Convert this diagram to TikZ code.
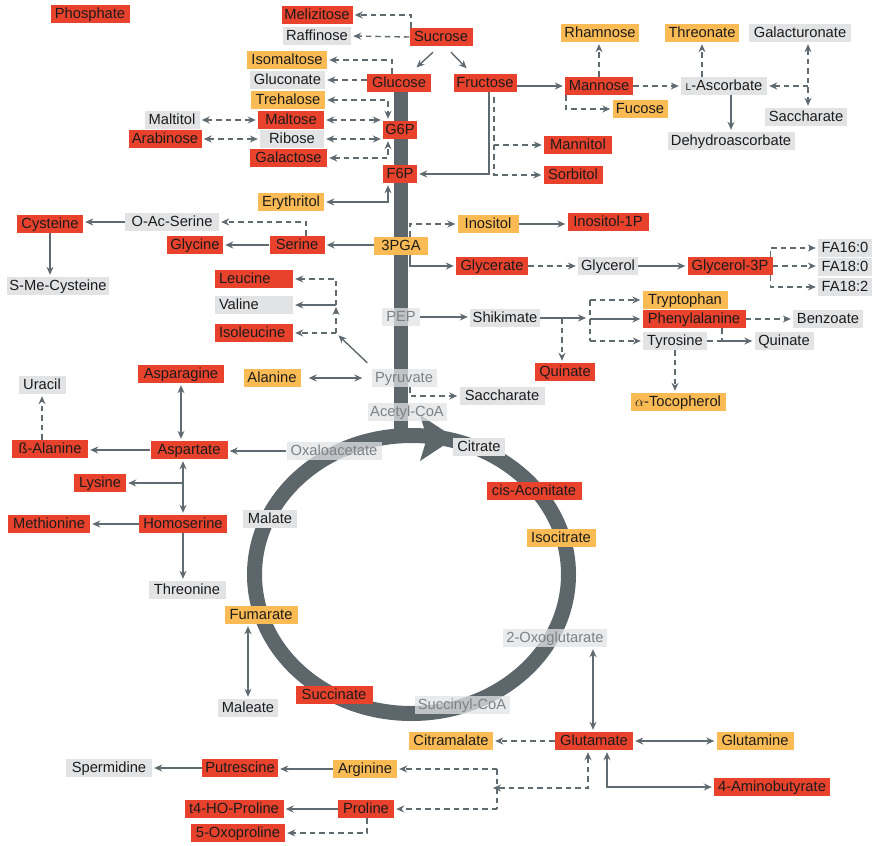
\documentclass[tikz,border=0pt]{standalone}
\usepackage{fontspec}
\setmainfont{Liberation Sans}
\usetikzlibrary{arrows.meta,calc}
\definecolor{redc}{RGB}{232,66,44}
\definecolor{orac}{RGB}{251,187,84}
\definecolor{grayc}{RGB}{226,227,229}
\definecolor{txtc}{RGB}{28,28,28}
\definecolor{flowtxt}{RGB}{125,130,134}
\definecolor{linec}{RGB}{96,106,113}
\definecolor{ringc}{RGB}{92,102,107}
\newcommand\nfont{\fontsize{14.7pt}{16pt}\selectfont}
\begin{document}
\begin{tikzpicture}[x=1pt,y=-1pt,
  >={Stealth[length=8pt,width=7pt]},
  box/.style={rectangle, inner xsep=2pt, inner ysep=0pt, minimum height=18pt,
    text height=10.5pt, text depth=1pt, font=\nfont, text=txtc, minimum width=#1},
  rb/.style={box=#1, fill=redc},
  ob/.style={box=#1, fill=orac},
  gb/.style={box=#1, fill=grayc},
  fb/.style={box=#1, fill=grayc, fill opacity=0.75, text opacity=1, text=flowtxt},
  ln/.style={draw=linec, line width=1.4pt},
  dl/.style={ln, dash pattern=on 5.5pt off 4pt},
  sa/.style={ln, ->, shorten >=2pt},
  da/.style={dl, ->, shorten >=2pt},
  sd/.style={ln, <->, shorten >=2pt, shorten <=2pt},
  dd/.style={dl, <->, shorten >=2pt, shorten <=2pt}]
\useasboundingbox (0,0) rectangle (877,845);
\fill[white] (0,0) rectangle (877,845);
% central flow
\fill[ringc] (394,88) rectangle (408,437);
\draw[ringc, line width=15pt] (411.5,574.5) ellipse [x radius=157pt, y radius=139pt];
\fill[ringc] (420,415) -- (455,438) -- (420,461) -- (427,438) -- cycle;
% nodes
\node[rb=79pt] (phos) at (90,14) {Phosphate};
\node[rb=71pt] (meliz) at (317,15) {Melizitose};
\node[gb=68pt] (raff) at (317,36) {Raffinose};
\node[rb=63pt] (sucrose) at (441,37) {Sucrose};
\node[ob=80pt] (isomalt) at (287,60) {Isomaltose};
\node[gb=75pt] (glucon) at (287.5,80) {Gluconate};
\node[ob=74pt] (treh) at (288,100) {Trehalose};
\node[rb=66pt] (maltose) at (291,120) {Maltose};
\node[gb=64pt] (ribose) at (292,139) {Ribose};
\node[rb=77pt] (galact) at (288.5,158) {Galactose};
\node[rb=64pt] (glucose) at (399,83) {Glucose};
\node[rb=63pt] (fructose) at (485,83) {Fructose};
\node[rb=34pt] (g6p) at (400,130) {G6P};
\node[rb=34pt] (f6p) at (400,174) {F6P};
\node[gb=55pt] (maltitol) at (172,120) {Maltitol};
\node[rb=73pt] (arab) at (165,139) {Arabinose};
\node[ob=66pt] (eryth) at (291,202) {Erythritol};
\node[rb=68pt] (mannitol) at (578,145) {Mannitol};
\node[rb=59pt] (sorbitol) at (573,175) {Sorbitol};
\node[rb=68pt] (mannose) at (599,86) {Mannose};
\node[ob=78pt] (rhamnose) at (600,33) {Rhamnose};
\node[ob=55pt] (fucose) at (640,109) {Fucose};
\node[ob=74pt] (threonate) at (702,33) {Threonate};
\node[gb=102pt] (galactu) at (800,33) {Galacturonate};
\node[gb=86pt] (lasc) at (724,86) {{\fontsize{10pt}{10pt}\selectfont L}-Ascorbate};
\node[gb=82pt] (sacch1) at (806,117) {Saccharate};
\node[gb=127pt] (dehydro) at (731,141) {Dehydroascorbate};
\node[rb=66pt] (cysteine) at (50,224) {Cysteine};
\node[gb=94pt] (oac) at (172,222) {O-Ac-Serine};
\node[rb=56pt] (glycine) at (195,245) {Glycine};
\node[rb=55pt] (serine) at (297,245) {Serine};
\node[ob=54pt] (pga) at (401,246) {3PGA};
\node[ob=61pt] (inositol) at (488,224) {Inositol};
\node[rb=81pt] (ino1p) at (608,222) {Inositol-1P};
\node[rb=72pt] (glycerate) at (492,266) {Glycerate};
\node[gb=60pt] (glycerol) at (608,266) {Glycerol};
\node[rb=85pt] (gly3p) at (730,266) {Glycerol-3P};
\node[gb=54pt] (fa160) at (845,248) {FA16:0};
\node[gb=54pt] (fa180) at (845,267) {FA18:0};
\node[gb=54pt] (fa182) at (845,287) {FA18:2};
\node[gb=102pt] (smecys) at (58,286) {S-Me-Cysteine};
\node[rb=78pt] (leucine) at (254,279) {\makebox[70pt][l]{Leucine}};
\node[gb=78pt] (valine) at (254,305) {\makebox[70pt][l]{Valine}};
\node[rb=78pt] (isoleu) at (254,333) {\makebox[70pt][l]{Isoleucine}};
\node[ob=57pt] (alanine) at (272,378) {Alanine};
\node[fb=38pt] (pep) at (401,317) {PEP};
\node[gb=70pt] (shikimate) at (505,318) {Shikimate};
\node[rb=60pt] (quinate) at (565,372) {Quinate};
\node[fb=65pt] (pyruvate) at (404,378) {Pyruvate};
\node[gb=85pt] (sacch2) at (502,396) {Saccharate};
\node[fb=79pt] (acetyl) at (407,412) {Acetyl-CoA};
\node[fb=95pt] (oxalo) at (334,451) {Oxaloacetate};
\node[gb=52pt] (citrate) at (479,447) {Citrate};
\node[ob=85pt] (trypto) at (685,300) {Tryptophan};
\node[rb=103pt] (phenyl) at (694,319) {Phenylalanine};
\node[gb=70pt] (benzoate) at (828,319) {Benzoate};
\node[gb=64pt] (tyrosine) at (675,341) {Tyrosine};
\node[gb=59pt] (quinate2) at (784,341) {Quinate};
\node[ob=95pt] (atoco) at (678,402) {$\alpha$-Tocopherol};
\node[rb=95pt] (cisacon) at (534,491) {cis-Aconitate};
\node[ob=69pt] (isocit) at (561,538) {Isocitrate};
\node[gb=47pt] (uracil) at (42,385) {Uracil};
\node[rb=86pt] (asparagine) at (181,374) {Asparagine};
\node[rb=76pt] (balanine) at (50,449) {ß-Alanine};
\node[rb=77pt] (aspartate) at (189,450) {Aspartate};
\node[rb=52pt] (lysine) at (100,483) {Lysine};
\node[rb=82pt] (methionine) at (49,524) {Methionine};
\node[rb=88pt] (homoserine) at (183,524) {Homoserine};
\node[gb=54pt] (malate) at (270,519) {Malate};
\node[gb=77pt] (threonine) at (187,590) {Threonine};
\node[ob=73pt] (fumarate) at (261,615) {Fumarate};
\node[gb=60pt] (maleate) at (248,708) {Maleate};
\node[fb=104pt] (oxoglu) at (555,638) {2-Oxoglutarate};
\node[rb=77pt] (succinate) at (334,695) {Succinate};
\node[fb=95pt] (succoa) at (462,705) {Succinyl-CoA};
\node[ob=84pt] (citramalate) at (451,741) {Citramalate};
\node[rb=78pt] (glutamate) at (594,741) {Glutamate};
\node[ob=77pt] (glutamine) at (755,741) {Glutamine};
\node[rb=116pt] (gaba) at (772,787) {4-Aminobutyrate};
\node[gb=86pt] (spermidine) at (109,768) {Spermidine};
\node[rb=76pt] (putrescine) at (240,768) {Putrescine};
\node[ob=64pt] (arginine) at (365,769) {Arginine};
\node[rb=99pt] (t4ho) at (234,809) {t4-HO-Proline};
\node[rb=56pt] (proline) at (366,809) {Proline};
\node[rb=94pt] (oxopro) at (238,833) {5-Oxoproline};
% sucrose
\coordinate (jm) at (411,15);
\draw[da] (sucrose.north -| jm) -- (jm) -- (meliz.east);
\draw[da] (sucrose.west) -- (raff.east);
\draw[sa] ($(sucrose.south)+(-8,6)$) -- ($(glucose.north)+(16,-5)$);
\draw[sa] ($(sucrose.south)+(10,6)$) -- ($(fructose.north)+(-17,-4)$);
% glucose
\coordinate (ji) at (392,60);
\draw[da] (glucose.north -| ji) -- (ji) -- (isomalt.east);
\draw[da] (glucose.west |- glucon.east) -- (glucon.east);
\coordinate (jt) at (388,100);
\draw[dd] (treh.east) -- (jt) -- (jt |- g6p.north);
\draw[dd] (maltose.east) -- (maltose.east -| g6p.west);
\draw[dd] (ribose.east) -- (ribose.east -| g6p.west);
\coordinate (jg) at (388,158);
\draw[dd] (galact.east) -- (jg) -- (jg |- g6p.south);
\draw[dd] (maltitol.east) -- (maltose.west);
\draw[dd] (arab.east) -- (ribose.west);
% fructose
\coordinate (jf) at (489,174);
\draw[sa] (fructose.south -| jf) -- (jf) -- (f6p.east);
\coordinate (jd) at (494,145);
\draw[da] ($(fructose.south -| jd)+(0,5)$) |- (mannitol.west);
\draw[da] (jd) |- (sorbitol.west);
\draw[sa] (fructose.east |- mannose.west) -- (mannose.west);
\draw[da] (mannose.north) -- (mannose.north |- rhamnose.south);
\draw[da] ($(mannose.south west)+(1,0)$) |- (fucose.west);
\draw[da] (mannose.east) -- (lasc.west);
\draw[da] (lasc.north -| threonate.south) -- (threonate.south);
\draw[sa] (lasc.south -| dehydro.north) -- (dehydro.north);
\coordinate (jgal) at (808,86);
\draw[dd] (galactu.south -| jgal) -- (sacch1.north -| jgal);
\draw[da] (jgal) -- (lasc.east);
% F6P
\coordinate (je) at (388,202);
\draw[sd] (f6p.south -| je) -- (je) -- (eryth.east);
% 3PGA
\draw[sa] (pga.west |- serine.east) -- (serine.east);
\draw[sa] (serine.west) -- (glycine.east);
\coordinate (jos) at (306,222);
\draw[da] (serine.north -| jos) -- (jos) -- (oac.east);
\draw[sa] (oac.west) -- (oac.west -| cysteine.east);
\draw[sa] (cysteine.south) -- (cysteine.south |- smecys.north);
\coordinate (jin) at (410,224);
\draw[da] (pga.north -| jin) -- (jin) -- (inositol.west);
\draw[sa] (inositol.east) -- (inositol.east -| ino1p.west);
\coordinate (jgl) at (410,266);
\draw[sa] (pga.south -| jgl) -- (jgl) -- (glycerate.west);
\draw[da] (glycerate.east) -- (glycerol.west);
\draw[sa] (glycerol.east) -- (gly3p.west);
\draw[da] ($(gly3p.north east)+(-2,0)$) |- (fa160.west);
\draw[da] (gly3p.east) -- (gly3p.east -| fa180.west);
\draw[da] ($(gly3p.south east)+(-2,0)$) |- (fa182.west);
% branched-chain
\coordinate (jb1) at (336,333);
\coordinate (jb2) at (336,305);
\coordinate (jb3) at (336,279);
\draw[sa] ($(pyruvate.north west)+(-4,-6)$) -- ($(jb1)+(1,1)$);
\draw[da] (jb1) -- (isoleu.east);
\draw[da] (jb1) -- (jb2);
\draw[sa] (jb2) -- (valine.east);
\draw[da] (jb2) -- (jb3) -- (leucine.east);
\draw[sd, shorten <=8pt, shorten >=9pt] (alanine.east) -- (pyruvate.west);
% shikimate
\draw[sa] (pep.east) -- (pep.east -| shikimate.west);
\coordinate (jsh) at (588,318);
\draw[sa] (shikimate.east) -- (jsh);
\coordinate (jt1) at (590,300);
\coordinate (jt3) at (590,341);
\draw[dl] (jt1) -- (jt3);
\draw[da] (jt1) -- (trypto.west);
\draw[sa] (jt1 |- phenyl.west) -- (phenyl.west);
\draw[da] (jt3) -- (tyrosine.west);
\coordinate (jq) at (562,318);
\draw[da] (jq) -- (jq |- quinate.north);
\draw[da] (phenyl.east) -- (benzoate.west);
\coordinate (jpq) at (722,341);
\draw[dl] (phenyl.south -| jpq) -- (jpq);
\draw[dl] (tyrosine.east) -- (jpq);
\draw[sa] (jpq) -- (quinate2.west);
\draw[da] (tyrosine.south) -- (tyrosine.south |- atoco.north);
\coordinate (jsa) at (410,396);
\draw[da] (pyruvate.south -| jsa) -- (jsa) -- (sacch2.west);
% aspartate family
\draw[sa] (oxalo.west) -- (oxalo.west -| aspartate.east);
\draw[sa] (aspartate.west) -- (aspartate.west -| balanine.east);
\draw[da] (balanine.north -| uracil.south) -- (uracil.south);
\draw[sd] (aspartate.north -| asparagine.south) -- (asparagine.south);
\coordinate (jly) at (183,483);
\draw[sd] (aspartate.south -| jly) -- (homoserine.north -| jly);
\draw[sa] (jly) -- (lysine.east);
\draw[sa] (homoserine.west) -- (methionine.east);
\draw[sa] (homoserine.south) -- (homoserine.south |- threonine.north);
\draw[sd] (fumarate.south -| maleate.north) -- (maleate.north);
% glutamate family
\coordinate (jog) at (593,700);
\draw[sd] (oxoglu.south -| jog) -- (glutamate.north -| jog);
\draw[sd] (glutamate.east) -- (glutamine.west);
\coordinate (jab) at (607,787);
\draw[sd] (glutamate.south -| jab) -- (jab) -- (gaba.west);
\draw[da] (glutamate.west) -- (citramalate.east);
\coordinate (jgp) at (588,788);
\coordinate (jtip) at (491,788);
\draw[dd] (glutamate.south -| jgp) -- (jgp) -- (jtip);
\coordinate (jar) at (497,769);
\coordinate (jpr) at (497,809);
\draw[dl] (jar) -- (jpr);
\draw[da] (jar) -- (arginine.east);
\draw[da] (jpr) -- (proline.east);
\draw[sa] (arginine.west) -- (arginine.west -| putrescine.east);
\draw[sa] (putrescine.west) -- (spermidine.east);
\draw[sa] (proline.west) -- (t4ho.east);
\coordinate (jox) at (367,833);
\draw[da] (proline.south -| jox) -- (jox) -- (oxopro.east);
\end{tikzpicture}
\end{document}
